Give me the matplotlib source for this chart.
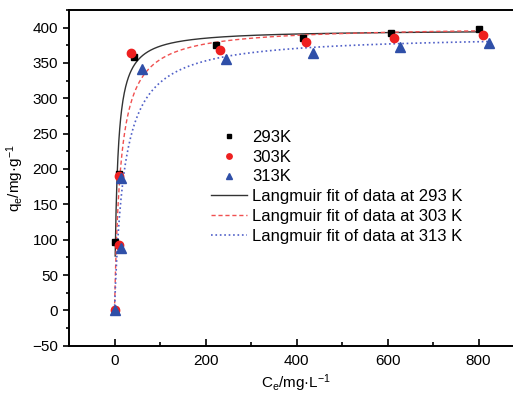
import numpy as np
import matplotlib
matplotlib.use("Agg")
import matplotlib.pyplot as plt
from matplotlib.ticker import MultipleLocator

plt.rcParams['font.family'] = ['Liberation Sans', 'DejaVu Sans']
plt.rcParams['mathtext.default'] = 'regular'

# data
ce_293 = [0, 1.5, 9, 43, 223, 415, 607, 801]
qe_293 = [0, 97, 193, 358, 375, 385, 392, 398]
ce_303 = [0, 9, 10, 37, 232, 421, 615, 810]
qe_303 = [0, 92, 190, 364, 368, 379, 385, 390]
ce_313 = [0, 14, 15, 60, 245, 436, 628, 823]
qe_313 = [0, 88, 187, 341, 355, 364, 373, 378]

# Langmuir parameters (qm, KL) estimated from the fitted curves
fit_293 = (397, 0.16)
fit_303 = (402, 0.075)
fit_313 = (390, 0.0475)

def langmuir(c, qm, k):
    return qm * k * c / (1 + k * c)

fig = plt.figure(figsize=(5.13, 3.96), dpi=100)
ax = fig.add_axes([0.1345, 0.127, 0.887, 0.848])

c1 = np.linspace(1.5, max(ce_293), 800)
c2 = np.linspace(0, max(ce_303), 800)
c3 = np.linspace(0, max(ce_313), 800)

ax.plot(ce_293, qe_293, 's', color='black', ms=5, label='293K', zorder=3)
ax.plot(ce_303, qe_303, 'o', color='#ee2020', ms=6, label='303K', zorder=3)
ax.plot(ce_313, qe_313, '^', color='#2f4fa8', ms=7, label='313K', zorder=3)
ax.plot(c1, langmuir(c1, *fit_293), '-', color='#333333', lw=1.0,
        label='Langmuir fit of data at 293 K')
ax.plot(c2, langmuir(c2, *fit_303), '--', color='#f05050', lw=1.0, dashes=(3, 2),
        label='Langmuir fit of data at 303 K')
ax.plot(c3, langmuir(c3, *fit_313), ':', color='#5060c8', lw=1.2,
        label='Langmuir fit of data at 313 K')

ax.set_xlim(-100, 900)
ax.set_ylim(-50, 425)
ax.set_xticks([0, 200, 400, 600, 800])
ax.xaxis.set_minor_locator(MultipleLocator(100))
ax.set_yticks(range(-50, 401, 50))
ax.yaxis.set_minor_locator(MultipleLocator(25))

ax.tick_params(axis='x', which='major', direction='in', length=5, width=1.2, labelsize=11, pad=6)
ax.tick_params(axis='x', which='minor', direction='in', length=3, width=1.2)
ax.tick_params(axis='y', which='major', direction='out', length=4.5, width=1.2, labelsize=11)
ax.tick_params(axis='y', which='minor', direction='out', length=2.5, width=1.2)
for s in ax.spines.values():
    s.set_linewidth(1.4)

ax.set_xlabel(r'C$_e$/mg·L$^{-1}$', fontsize=11, labelpad=3)
ax.set_ylabel(r'q$_e$/mg·g$^{-1}$', fontsize=11, labelpad=4)

ax.legend(loc='upper left', bbox_to_anchor=(0.298, 0.663), frameon=False,
          fontsize=12, markerscale=0.65, handlelength=2.15, handletextpad=0.3,
          labelspacing=0.29, borderaxespad=0)

fig.savefig('out.png', dpi=100)
